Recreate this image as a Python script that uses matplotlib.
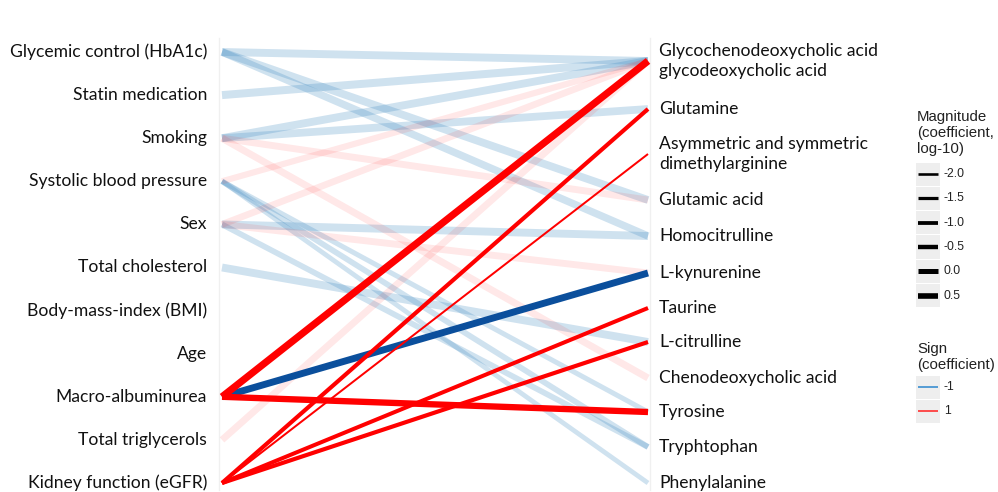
import numpy as np
import matplotlib
matplotlib.use("Agg")
import matplotlib.pyplot as plt

# ---------------- data ----------------
left_labels = ["Glycemic control (HbA1c)", "Statin medication", "Smoking",
               "Systolic blood pressure", "Sex", "Total cholesterol",
               "Body-mass-index (BMI)", "Age", "Macro-albuminurea",
               "Total triglycerols", "Kidney function (eGFR)"]
right_labels = ["Glycochenodeoxycholic acid\nglycodeoxycholic acid", "Glutamine",
                "Asymmetric and symmetric\ndimethylarginine", "Glutamic acid",
                "Homocitrulline", "L-kynurenine", "Taurine", "L-citrulline",
                "Chenodeoxycholic acid", "Tyrosine", "Tryphtophan", "Phenylalanine"]

# edges: source (left), target (right), magnitude (log10 |coef|), sign, significant
edge_src = ["Glycemic control (HbA1c)", "Glycemic control (HbA1c)", "Glycemic control (HbA1c)",
            "Statin medication", "Smoking", "Smoking", "Smoking", "Smoking",
            "Systolic blood pressure", "Systolic blood pressure", "Systolic blood pressure",
            "Systolic blood pressure", "Sex", "Sex", "Sex", "Sex", "Total cholesterol",
            "Total triglycerols",
            "Macro-albuminurea", "Macro-albuminurea", "Macro-albuminurea",
            "Kidney function (eGFR)", "Kidney function (eGFR)", "Kidney function (eGFR)",
            "Kidney function (eGFR)"]
edge_dst = ["Glycochenodeoxycholic acid\nglycodeoxycholic acid", "Glutamic acid", "Homocitrulline",
            "Glycochenodeoxycholic acid\nglycodeoxycholic acid",
            "Glycochenodeoxycholic acid\nglycodeoxycholic acid", "Glutamine", "Glutamic acid",
            "Chenodeoxycholic acid",
            "Glycochenodeoxycholic acid\nglycodeoxycholic acid", "Tyrosine", "Tryphtophan",
            "Phenylalanine",
            "Glycochenodeoxycholic acid\nglycodeoxycholic acid", "Homocitrulline", "L-kynurenine",
            "Tryphtophan", "L-citrulline",
            "Glycochenodeoxycholic acid\nglycodeoxycholic acid",
            "Glycochenodeoxycholic acid\nglycodeoxycholic acid", "L-kynurenine", "Tyrosine",
            "Glutamine", "Asymmetric and symmetric\ndimethylarginine", "Taurine", "L-citrulline"]
edge_mag = [2.4, 2.3, 2.0,
            2.5, 2.4, 2.3, 1.6, 1.7,
            1.0, 0.0, 0.6, -0.2,
            1.5, 2.4, 1.6, 0.6, 2.4,
            1.6,
            1.8, 1.6, 1.1,
            -0.7, -2.5, -0.8, -0.7]
edge_sign = [-1, -1, -1,
             -1, -1, -1, 1, 1,
             1, -1, -1, -1,
             1, -1, 1, -1, -1,
             1,
             1, -1, 1,
             1, 1, 1, 1]
edge_sig = [False] * 18 + [True] * 7

legend_mag = [-2.0, -1.5, -1.0, -0.5, 0.0, 0.5]
legend_sign = [-1, 1]

# ---------------- layout / style ----------------
W, H = 998, 492
fig = plt.figure(figsize=(W / 100, H / 100), dpi=100)
fig.patch.set_facecolor("white")

XL, XR = 222, 648
ax = fig.add_axes([XL / W, 0, (XR - XL) / W, 1])
ax.set_xlim(0, 1)
ax.set_ylim(H, 0)
ax.axis("off")

left_y = np.linspace(52, 483, len(left_labels))
right_y = [61, 109, 154, 200, 236, 273, 308, 342, 378, 412, 447, 483]
lpos = dict(zip(left_labels, left_y))
rpos = dict(zip(right_labels, right_y))


def width_pt(m):
    return (5.0 + 1.2 * m) * 0.72


# faint guide lines at both axes
for xv in (-0.006, 1.004):
    ax.plot([xv, xv], [38, 490], color="#f0f0f0", lw=1.0, clip_on=False, zorder=0)

order = sorted(range(len(edge_src)),
               key=lambda i: (edge_sig[i], edge_sign[i] > 0))
for i in order:
    y0 = lpos[edge_src[i]]
    y1 = rpos[edge_dst[i]]
    if edge_sig[i]:
        col = "#0b4f9c" if edge_sign[i] < 0 else "#ff0000"
        alpha = 1.0
    else:
        col = "#3182bd" if edge_sign[i] < 0 else "#ff0000"
        alpha = 0.23 if edge_sign[i] < 0 else 0.09
    ax.plot([0, 1], [y0, y1], color=col, alpha=alpha, lw=width_pt(edge_mag[i]),
            solid_capstyle="butt", clip_on=False, zorder=2 if edge_sig[i] else 1)

lab_font = ["Lato", "DejaVu Sans"]
for lab, y in zip(left_labels, left_y):
    fig.text(207 / W, 1 - y / H, lab, ha="right", va="center", fontsize=12.6,
             family=lab_font, color="#111111")
for lab, y in zip(right_labels, right_y):
    fig.text(659 / W, 1 - y / H, lab, ha="left", va="center", fontsize=12.6,
             family=lab_font, color="#111111", linespacing=1.25)

# ---------------- legend ----------------
lg = fig.add_axes([0, 0, 1, 1])
lg.set_xlim(0, W)
lg.set_ylim(H, 0)
lg.axis("off")
lg.patch.set_alpha(0)

leg_font = ["Liberation Sans", "DejaVu Sans"]
lg.text(917, 133, "Magnitude\n(coefficient,\nlog-10)", ha="left", va="center",
        fontsize=10.8, family=leg_font, color="#222222", linespacing=1.15)
row_h = 24.3
top = 162
for k, m in enumerate(legend_mag):
    yc = top + row_h * (k + 0.5)
    lg.add_patch(plt.Rectangle((916, top + row_h * k + 0.5), 24, row_h - 1,
                               facecolor="#eeeeee", edgecolor="none"))
    lg.plot([918, 938], [yc, yc], color="black", lw=width_pt(m), solid_capstyle="butt")
    lg.text(944, yc, f"{m:.1f}", ha="left", va="center", fontsize=8.8,
            family=leg_font, color="#222222")

lg.text(917, 357, "Sign\n(coefficient)", ha="left", va="center",
        fontsize=10.8, family=leg_font, color="#222222", linespacing=1.15)
stop = 375
sign_cols = {-1: "#3a8fd0", 1: "#ff3030"}
for k, s in enumerate(legend_sign):
    yc = stop + 24 * (k + 0.5)
    lg.add_patch(plt.Rectangle((916, stop + 24 * k + 0.5), 24, 23,
                               facecolor="#eeeeee", edgecolor="none"))
    lg.plot([918, 938], [yc, yc], color=sign_cols[s], lw=1.2, solid_capstyle="butt")
    lg.text(944, yc, f"{s}", ha="left", va="center", fontsize=8.8,
            family=leg_font, color="#222222")

fig.savefig("out.png", dpi=100, facecolor="white")
